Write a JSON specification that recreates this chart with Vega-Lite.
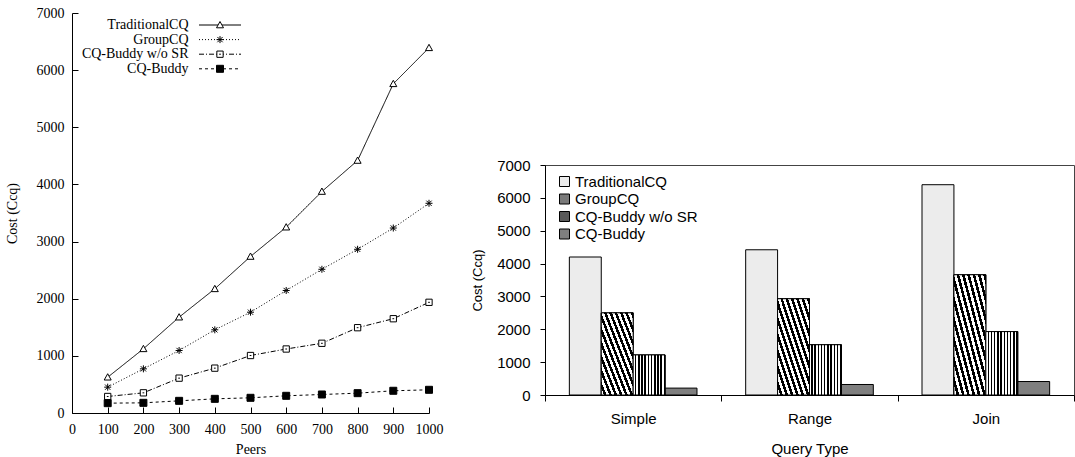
{
  "$schema": "https://vega.github.io/schema/vega-lite/v6.json",
  "background": "white",
  "padding": {"left": 5, "top": 6, "right": 0, "bottom": 0},
  "spacing": 27,
  "datasets": {
    "lines": [
      {"peers": 100, "cost": 626, "series": "TraditionalCQ"},
      {"peers": 200, "cost": 1123, "series": "TraditionalCQ"},
      {"peers": 300, "cost": 1677, "series": "TraditionalCQ"},
      {"peers": 400, "cost": 2173, "series": "TraditionalCQ"},
      {"peers": 500, "cost": 2739, "series": "TraditionalCQ"},
      {"peers": 600, "cost": 3252, "series": "TraditionalCQ"},
      {"peers": 700, "cost": 3876, "series": "TraditionalCQ"},
      {"peers": 800, "cost": 4419, "series": "TraditionalCQ"},
      {"peers": 900, "cost": 5761, "series": "TraditionalCQ"},
      {"peers": 1000, "cost": 6391, "series": "TraditionalCQ"},
      {"peers": 100, "cost": 452, "series": "GroupCQ"},
      {"peers": 200, "cost": 773, "series": "GroupCQ"},
      {"peers": 300, "cost": 1094, "series": "GroupCQ"},
      {"peers": 400, "cost": 1456, "series": "GroupCQ"},
      {"peers": 500, "cost": 1764, "series": "GroupCQ"},
      {"peers": 600, "cost": 2144, "series": "GroupCQ"},
      {"peers": 700, "cost": 2515, "series": "GroupCQ"},
      {"peers": 800, "cost": 2865, "series": "GroupCQ"},
      {"peers": 900, "cost": 3237, "series": "GroupCQ"},
      {"peers": 1000, "cost": 3670, "series": "GroupCQ"},
      {"peers": 100, "cost": 289, "series": "CQ-Buddy w/o SR"},
      {"peers": 200, "cost": 353, "series": "CQ-Buddy w/o SR"},
      {"peers": 300, "cost": 610, "series": "CQ-Buddy w/o SR"},
      {"peers": 400, "cost": 785, "series": "CQ-Buddy w/o SR"},
      {"peers": 500, "cost": 1006, "series": "CQ-Buddy w/o SR"},
      {"peers": 600, "cost": 1120, "series": "CQ-Buddy w/o SR"},
      {"peers": 700, "cost": 1220, "series": "CQ-Buddy w/o SR"},
      {"peers": 800, "cost": 1493, "series": "CQ-Buddy w/o SR"},
      {"peers": 900, "cost": 1650, "series": "CQ-Buddy w/o SR"},
      {"peers": 1000, "cost": 1937, "series": "CQ-Buddy w/o SR"},
      {"peers": 100, "cost": 172, "series": "CQ-Buddy"},
      {"peers": 200, "cost": 178, "series": "CQ-Buddy"},
      {"peers": 300, "cost": 213, "series": "CQ-Buddy"},
      {"peers": 400, "cost": 248, "series": "CQ-Buddy"},
      {"peers": 500, "cost": 266, "series": "CQ-Buddy"},
      {"peers": 600, "cost": 301, "series": "CQ-Buddy"},
      {"peers": 700, "cost": 324, "series": "CQ-Buddy"},
      {"peers": 800, "cost": 347, "series": "CQ-Buddy"},
      {"peers": 900, "cost": 389, "series": "CQ-Buddy"},
      {"peers": 1000, "cost": 406, "series": "CQ-Buddy"}
    ],
    "bars": [
      {"query": "Simple", "series": "TraditionalCQ", "cost": 4200},
      {"query": "Simple", "series": "GroupCQ", "cost": 2500},
      {"query": "Simple", "series": "CQ-Buddy w/o SR", "cost": 1220},
      {"query": "Simple", "series": "CQ-Buddy", "cost": 210},
      {"query": "Range", "series": "TraditionalCQ", "cost": 4420},
      {"query": "Range", "series": "GroupCQ", "cost": 2930},
      {"query": "Range", "series": "CQ-Buddy w/o SR", "cost": 1530},
      {"query": "Range", "series": "CQ-Buddy", "cost": 320},
      {"query": "Join", "series": "TraditionalCQ", "cost": 6400},
      {"query": "Join", "series": "GroupCQ", "cost": 3660},
      {"query": "Join", "series": "CQ-Buddy w/o SR", "cost": 1930},
      {"query": "Join", "series": "CQ-Buddy", "cost": 410}
    ]
  },
  "hconcat": [
    {
      "width": 357,
      "height": 400,
      "view": {"stroke": null},
      "data": {"name": "lines"},
      "encoding": {
        "x": {
          "field": "peers", "type": "quantitative",
          "scale": {"domain": [0, 1000], "nice": false},
          "axis": {
            "values": [0, 100, 200, 300, 400, 500, 600, 700, 800, 900, 1000],
            "format": "d",
            "title": "Peers", "tickSize": -6, "labelPadding": 15, "titlePadding": 6,
            "labelFont": "Liberation Serif", "labelFontSize": 14,
            "titleFont": "Liberation Serif", "titleFontSize": 14,
            "labelFlush": false, "labelOverlap": false
          }
        },
        "y": {
          "field": "cost", "type": "quantitative",
          "scale": {"domain": [0, 7000], "nice": false},
          "axis": {
            "values": [0, 1000, 2000, 3000, 4000, 5000, 6000, 7000],
            "format": "d",
            "title": "Cost (Ccq)", "tickSize": -6, "labelPadding": 14, "titlePadding": 16.5,
            "labelFont": "Liberation Serif", "labelFontSize": 14,
            "titleFont": "Liberation Serif", "titleFontSize": 14,
            "labelFlush": false, "labelOverlap": false
          }
        }
      },
      "layer": [
        {
          "mark": {"type": "line", "stroke": "black", "strokeWidth": 1},
          "encoding": {
            "strokeDash": {
              "field": "series", "type": "nominal",
              "sort": ["TraditionalCQ", "GroupCQ", "CQ-Buddy w/o SR", "CQ-Buddy"],
              "scale": {"range": [[1, 0], [1, 2], [5, 2, 1, 2], [3, 3]]},
              "legend": {
                "orient": "none", "legendX": 141, "legendY": 5, "title": null,
                "padding": 0, "rowPadding": 0.6,
                "symbolType": "M-6,0L6,0", "symbolSize": 49,
                "symbolStrokeColor": "black", "symbolStrokeWidth": 1,
                "labelAlign": "right", "labelOffset": -38.5,
                "labelFont": "Liberation Serif", "labelFontSize": 14, "labelColor": "black"
              }
            }
          }
        },
        {
          "mark": {"type": "point", "filled": false, "stroke": "black", "strokeWidth": 1, "size": 49, "opacity": 1},
          "encoding": {
            "shape": {
              "field": "series", "type": "nominal",
              "scale": {
                "domain": ["TraditionalCQ", "GroupCQ", "CQ-Buddy w/o SR", "CQ-Buddy"],
                "range": [
                  "M0,-1L1,0.8L-1,0.8Z",
                  "M-1,0L1,0M0,-1L0,1M-0.75,-0.75L0.75,0.75M-0.75,0.75L0.75,-0.75",
                  "M-0.9,-0.9L0.9,-0.9L0.9,0.9L-0.9,0.9ZM-0.25,0L0.25,0",
                  "M-1,-1L1,-1L1,1L-1,1Z"
                ]
              },
              "legend": {
                "orient": "none", "legendX": 141, "legendY": 5, "title": null,
                "padding": 0, "rowPadding": 0.6, "symbolSize": 49,
                "symbolStrokeWidth": 1,
                "labelAlign": "right", "labelOffset": -38.5, "labelOpacity": 0,
                "labelFont": "Liberation Serif", "labelFontSize": 14
              }
            },
            "fill": {
              "field": "series", "type": "nominal",
              "scale": {
                "domain": ["TraditionalCQ", "GroupCQ", "CQ-Buddy w/o SR", "CQ-Buddy"],
                "range": ["white", "white", "white", "black"]
              },
              "legend": {
                "orient": "none", "legendX": 141, "legendY": 5, "title": null,
                "padding": 0, "rowPadding": 0.6, "symbolSize": 49,
                "symbolStrokeWidth": 1,
                "labelAlign": "right", "labelOffset": -38.5, "labelOpacity": 0,
                "labelFont": "Liberation Serif", "labelFontSize": 14
              }
            }
          }
        }
      ]
    },
    {
      "spacing": 20,
      "resolve": {
        "scale": {"fill": "independent"},
        "legend": {"fill": "independent"}
      },
      "vconcat": [
        {
          "width": 529,
          "height": 124,
          "view": {"stroke": null},
          "data": {"values": []},
          "mark": {"type": "text"},
          "encoding": {}
        },
        {
          "width": 529,
          "height": 230,
          "view": {"stroke": "#444444", "strokeWidth": 1},
          "data": {"name": "bars"},
          "encoding": {
            "x": {
              "field": "query", "type": "nominal", "sort": ["Simple", "Range", "Join"],
              "scale": {"paddingInner": 0, "paddingOuter": 0},
              "axis": {
                "title": "Query Type", "labelAngle": 0, "tickBand": "extent", "tickSize": 6,
                "labelPadding": 10.5, "titlePadding": 15,
                "labelFont": "Liberation Sans", "labelFontSize": 15,
                "titleFont": "Liberation Sans", "titleFontSize": 15
              }
            },
            "xOffset": {
              "field": "series", "type": "nominal",
              "sort": ["TraditionalCQ", "GroupCQ", "CQ-Buddy w/o SR", "CQ-Buddy"],
              "scale": {"paddingInner": 0, "paddingOuter": 0.763}
            },
            "y": {
              "field": "cost", "type": "quantitative",
              "scale": {"domain": [0, 7000], "nice": false},
              "axis": {
                "values": [0, 1000, 2000, 3000, 4000, 5000, 6000, 7000],
                "format": "d",
                "title": "Cost (Ccq)", "tickSize": 5, "labelPadding": 10, "titlePadding": 12.5,
                "labelFont": "Liberation Sans", "labelFontSize": 15,
                "titleFont": "Liberation Sans", "titleFontSize": 13,
                "labelFlush": false
              }
            }
          },
          "layer": [
            {
              "mark": {"type": "bar", "stroke": "black", "strokeWidth": 1},
              "encoding": {
                "fill": {
                  "field": "series", "type": "nominal",
                  "scale": {
                    "domain": ["TraditionalCQ", "GroupCQ", "CQ-Buddy w/o SR", "CQ-Buddy"],
                    "range": ["#ececec", "#7a7a7a", "#5a5a5a", "#7f7f7f"]
                  },
                  "legend": {
                    "orient": "none", "legendX": 12, "legendY": 9, "title": null,
                    "padding": 0, "rowPadding": 1.5,
                    "symbolType": "square", "symbolSize": 100,
                    "symbolStrokeColor": "black", "symbolStrokeWidth": 1, "symbolOpacity": 1,
                    "labelOffset": 3,
                    "labelFont": "Liberation Sans", "labelFontSize": 15, "labelColor": "black"
                  }
                }
              }
            },
            {
              "transform": [{"filter": {"field": "series", "equal": "GroupCQ"}}],
              "mark": {
                "type": "bar", "stroke": "black", "strokeWidth": 1,
                "fill": {"gradient": "linear", "x1": 0, "y1": 1, "x2": 1, "y2": 0, "stops": [
                  {"offset": 0, "color": "white"}, {"offset": 0.0417, "color": "white"}, {"offset": 0.0417, "color": "black"}, {"offset": 0.0833, "color": "black"},
                  {"offset": 0.0833, "color": "white"}, {"offset": 0.125, "color": "white"}, {"offset": 0.125, "color": "black"}, {"offset": 0.1667, "color": "black"},
                  {"offset": 0.1667, "color": "white"}, {"offset": 0.2083, "color": "white"}, {"offset": 0.2083, "color": "black"}, {"offset": 0.25, "color": "black"},
                  {"offset": 0.25, "color": "white"}, {"offset": 0.2917, "color": "white"}, {"offset": 0.2917, "color": "black"}, {"offset": 0.3333, "color": "black"},
                  {"offset": 0.3333, "color": "white"}, {"offset": 0.375, "color": "white"}, {"offset": 0.375, "color": "black"}, {"offset": 0.4167, "color": "black"},
                  {"offset": 0.4167, "color": "white"}, {"offset": 0.4583, "color": "white"}, {"offset": 0.4583, "color": "black"}, {"offset": 0.5, "color": "black"},
                  {"offset": 0.5, "color": "white"}, {"offset": 0.5417, "color": "white"}, {"offset": 0.5417, "color": "black"}, {"offset": 0.5833, "color": "black"},
                  {"offset": 0.5833, "color": "white"}, {"offset": 0.625, "color": "white"}, {"offset": 0.625, "color": "black"}, {"offset": 0.6667, "color": "black"},
                  {"offset": 0.6667, "color": "white"}, {"offset": 0.7083, "color": "white"}, {"offset": 0.7083, "color": "black"}, {"offset": 0.75, "color": "black"},
                  {"offset": 0.75, "color": "white"}, {"offset": 0.7917, "color": "white"}, {"offset": 0.7917, "color": "black"}, {"offset": 0.8333, "color": "black"},
                  {"offset": 0.8333, "color": "white"}, {"offset": 0.875, "color": "white"}, {"offset": 0.875, "color": "black"}, {"offset": 0.9167, "color": "black"},
                  {"offset": 0.9167, "color": "white"}, {"offset": 0.9583, "color": "white"}, {"offset": 0.9583, "color": "black"}, {"offset": 1, "color": "black"}
                ]}
              }
            },
            {
              "transform": [{"filter": {"field": "series", "equal": "CQ-Buddy w/o SR"}}],
              "mark": {
                "type": "bar", "stroke": "black", "strokeWidth": 1,
                "fill": {"gradient": "linear", "x1": 0, "y1": 0, "x2": 1, "y2": 0, "stops": [
                  {"offset": 0, "color": "white"}, {"offset": 0.055, "color": "white"}, {"offset": 0.055, "color": "black"}, {"offset": 0.1, "color": "black"},
                  {"offset": 0.1, "color": "white"}, {"offset": 0.155, "color": "white"}, {"offset": 0.155, "color": "black"}, {"offset": 0.2, "color": "black"},
                  {"offset": 0.2, "color": "white"}, {"offset": 0.255, "color": "white"}, {"offset": 0.255, "color": "black"}, {"offset": 0.3, "color": "black"},
                  {"offset": 0.3, "color": "white"}, {"offset": 0.355, "color": "white"}, {"offset": 0.355, "color": "black"}, {"offset": 0.4, "color": "black"},
                  {"offset": 0.4, "color": "white"}, {"offset": 0.455, "color": "white"}, {"offset": 0.455, "color": "black"}, {"offset": 0.5, "color": "black"},
                  {"offset": 0.5, "color": "white"}, {"offset": 0.555, "color": "white"}, {"offset": 0.555, "color": "black"}, {"offset": 0.6, "color": "black"},
                  {"offset": 0.6, "color": "white"}, {"offset": 0.655, "color": "white"}, {"offset": 0.655, "color": "black"}, {"offset": 0.7, "color": "black"},
                  {"offset": 0.7, "color": "white"}, {"offset": 0.755, "color": "white"}, {"offset": 0.755, "color": "black"}, {"offset": 0.8, "color": "black"},
                  {"offset": 0.8, "color": "white"}, {"offset": 0.855, "color": "white"}, {"offset": 0.855, "color": "black"}, {"offset": 0.9, "color": "black"},
                  {"offset": 0.9, "color": "white"}, {"offset": 0.955, "color": "white"}, {"offset": 0.955, "color": "black"}, {"offset": 1, "color": "black"}
                ]}
              }
            }
          ]
        }
      ]
    }
  ],
  "resolve": {
    "scale": {"fill": "independent", "shape": "independent", "strokeDash": "independent"},
    "legend": {"fill": "independent", "shape": "independent", "strokeDash": "independent"}
  },
  "config": {
    "axis": {
      "grid": false, "domainColor": "black", "tickColor": "black",
      "labelColor": "black", "titleColor": "black", "titleFontWeight": "normal",
      "domainWidth": 1, "tickWidth": 1
    }
  }
}
